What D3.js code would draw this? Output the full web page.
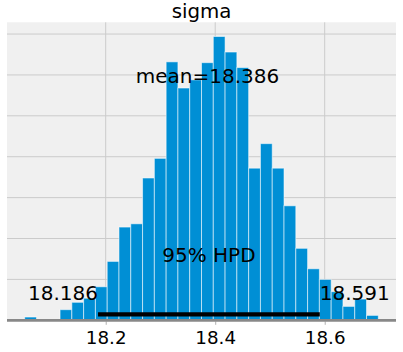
<!DOCTYPE html>
<html>
<head>
<meta charset="utf-8">
<script src="https://cdn.jsdelivr.net/npm/d3@7"></script>
<style>
  html, body { margin: 0; padding: 0; background: #ffffff; }
  svg { display: block; }
  text { font-family: "DejaVu Sans", sans-serif; }
</style>
</head>
<body>
<div id="chart"></div>
<script>
// ---- data ----
const title = "sigma";
const binStart = 18.052;
const binWidth = 0.02153;
const binCounts = [4, 0, 0, 13, 22, 27, 41, 72, 114, 118,
                   174, 198, 316, 284, 294, 315, 347, 328, 309, 186,
                   216, 186, 140, 88, 63, 50, 35, 17, 26, 6];
const meanValue = 18.386;
const hpdInterval = [18.186, 18.591];
const hpdLabel = "95% HPD";
const xTickValues = [18.2, 18.4, 18.6];
const yGridValues = [50, 100, 150, 200, 250, 300, 350];

// ---- layout ----
const W = 403, H = 352;
const plot = { left: 7, right: 396, top: 22.3, bottom: 320.3 };

const bins = binCounts.map((c, i) => ({
  x0: binStart + i * binWidth,
  x1: binStart + (i + 1) * binWidth,
  count: c
}));
const dataLo = bins[0].x0, dataHi = bins[bins.length - 1].x1;
const pad = (dataHi - dataLo) * 0.05;
const x = d3.scaleLinear().domain([dataLo - pad, dataHi + pad]).range([plot.left, plot.right]);
const yMax = d3.max(binCounts) * 1.05;
const y = d3.scaleLinear().domain([0, yMax]).range([plot.bottom, plot.top]);

const svg = d3.select("#chart").append("svg").attr("width", W).attr("height", H);

// background
svg.append("rect")
  .attr("x", plot.left).attr("y", plot.top)
  .attr("width", plot.right - plot.left).attr("height", plot.bottom - plot.top)
  .attr("fill", "#f0f0f0");

// grid
const grid = svg.append("g");
grid.selectAll("line.h").data(yGridValues).join("line")
  .attr("x1", plot.left).attr("x2", plot.right)
  .attr("y1", d => y(d)).attr("y2", d => y(d))
  .attr("stroke", "#cbcbcb").attr("stroke-width", 1);
grid.selectAll("line.v").data(xTickValues).join("line")
  .attr("x1", d => x(d)).attr("x2", d => x(d))
  .attr("y1", plot.top).attr("y2", plot.bottom)
  .attr("stroke", "#cbcbcb").attr("stroke-width", 1);

// bars
svg.append("g").selectAll("rect").data(bins.filter(b => b.count > 0)).join("rect")
  .attr("x", d => x(d.x0))
  .attr("width", d => x(d.x1) - x(d.x0))
  .attr("y", d => y(d.count))
  .attr("height", d => y(0) - y(d.count))
  .attr("fill", "#008fd5")
  .attr("stroke", "#ffffff").attr("stroke-opacity", 0.55).attr("stroke-width", 1);

// x axis
const xAxis = d3.axisBottom(x).tickValues(xTickValues).tickSize(3.5).tickPadding(6)
  .tickFormat(d3.format(".1f"));
const gx = svg.append("g").attr("transform", `translate(0,${plot.bottom + 1})`).call(xAxis);
gx.select(".domain").remove();
gx.selectAll(".tick line").attr("stroke", "#b0b0b0");
gx.selectAll(".tick text").attr("font-size", 18.3).attr("fill", "#000")
  .attr("font-family", "DejaVu Sans, sans-serif");

// bottom spine
svg.append("line")
  .attr("x1", plot.left).attr("x2", plot.right)
  .attr("y1", plot.bottom).attr("y2", plot.bottom)
  .attr("stroke", "#888888").attr("stroke-width", 2.8);

// HPD line
svg.append("line")
  .attr("x1", x(hpdInterval[0])).attr("x2", x(hpdInterval[1]))
  .attr("y1", y(yMax * 0.02)).attr("y2", y(yMax * 0.02))
  .attr("stroke", "#000").attr("stroke-width", 4.4);

// texts
svg.append("text").attr("x", x(meanValue)).attr("y", y(yMax * 0.8) + 0.8)
  .attr("text-anchor", "middle").attr("font-size", 20).attr("fill", "#000")
  .text("mean=" + meanValue.toFixed(3));
svg.append("text").attr("x", x((hpdInterval[0] + hpdInterval[1]) / 2)).attr("y", y(yMax * 0.2) + 1.2)
  .attr("text-anchor", "middle").attr("font-size", 20).attr("fill", "#000")
  .text(hpdLabel);
svg.append("text").attr("x", x(hpdInterval[0])).attr("y", y(yMax * 0.07) + 0.4)
  .attr("text-anchor", "end").attr("font-size", 20).attr("fill", "#000")
  .text(hpdInterval[0].toFixed(3));
svg.append("text").attr("x", x(hpdInterval[1])).attr("y", y(yMax * 0.07) + 0.4)
  .attr("text-anchor", "start").attr("font-size", 20).attr("fill", "#000")
  .text(hpdInterval[1].toFixed(3));

// title
svg.append("text").attr("x", (plot.left + plot.right) / 2).attr("y", 18.4)
  .attr("text-anchor", "middle").attr("font-size", 19.8).attr("fill", "#000")
  .text(title);
</script>
</body>
</html>
